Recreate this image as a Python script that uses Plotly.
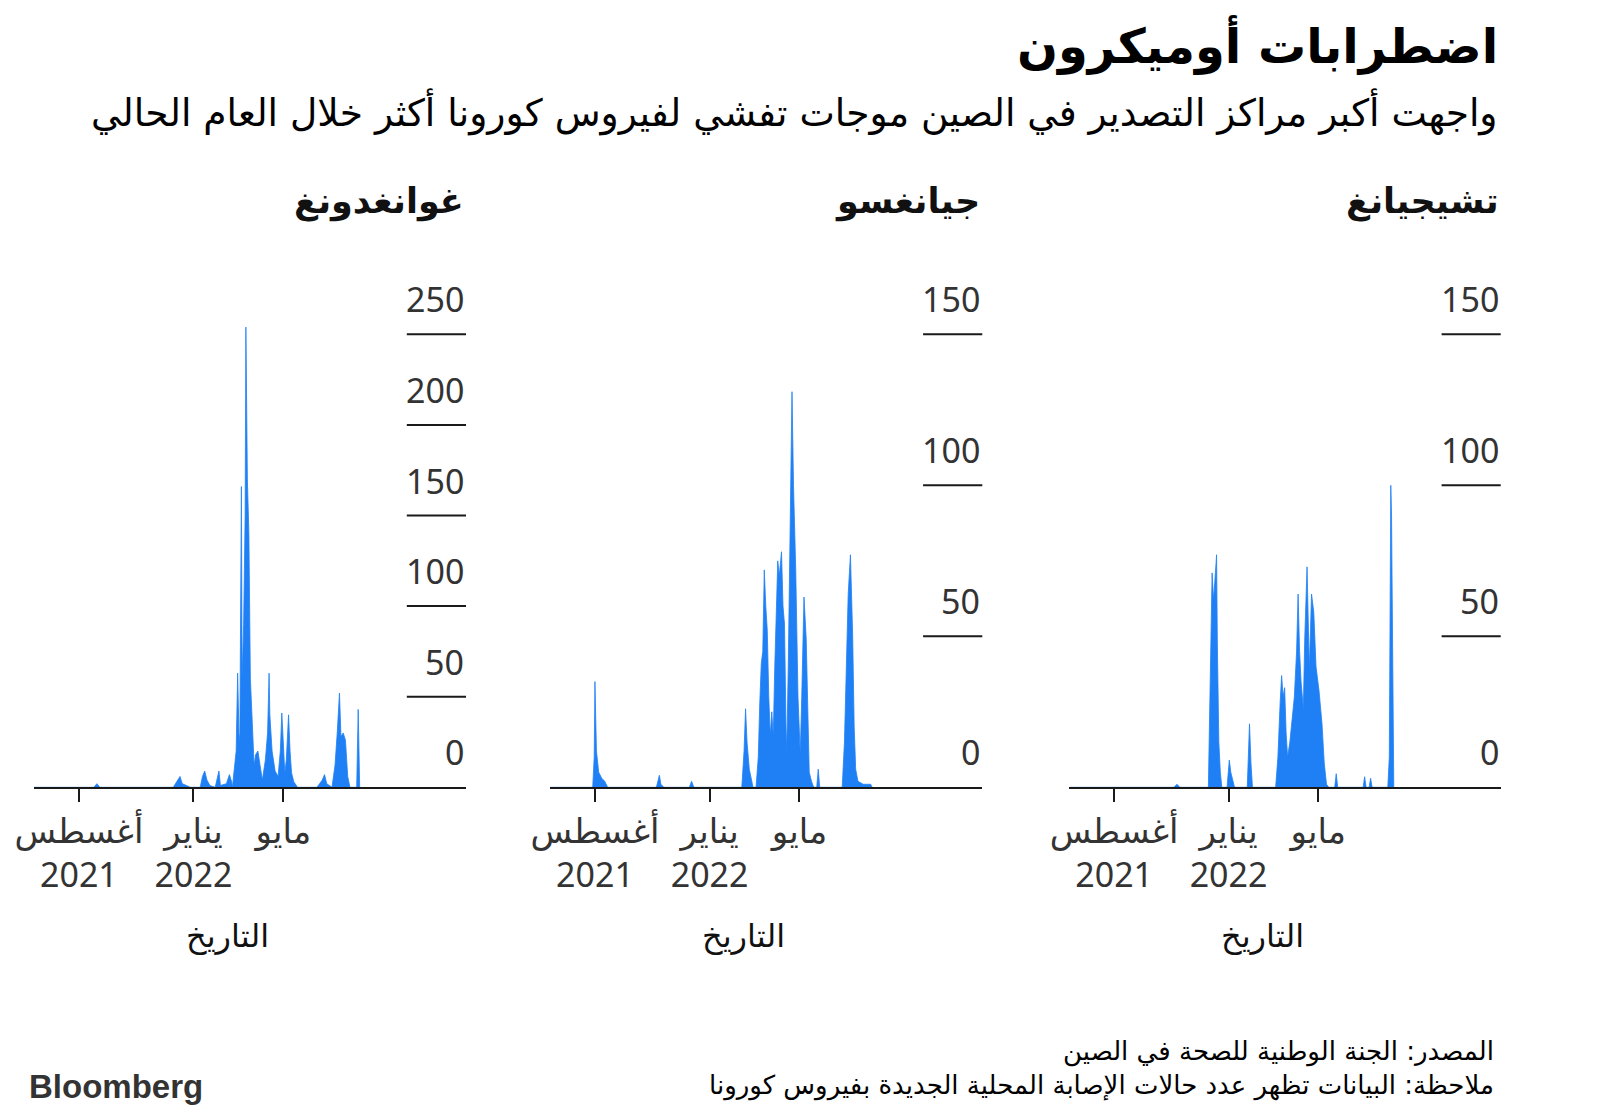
import plotly.graph_objects as go

# --- data (daily new local COVID cases) ---
gd_dates = ["2021-06-02", "2021-08-21", "2021-08-25", "2021-08-29",
            "2021-12-05", "2021-12-10", "2021-12-14", "2021-12-17", "2021-12-22", "2021-12-28",
            "2022-01-10", "2022-01-13", "2022-01-16", "2022-01-19", "2022-01-23",
            "2022-01-30", "2022-02-04", "2022-02-06", "2022-02-14", "2022-02-18", "2022-02-21",
            "2022-02-22", "2022-02-24", "2022-02-27", "2022-03-01", "2022-03-03", "2022-03-04",
            "2022-03-06", "2022-03-07", "2022-03-09", "2022-03-11", "2022-03-12", "2022-03-14",
            "2022-03-16", "2022-03-18", "2022-03-21", "2022-03-23", "2022-03-25", "2022-03-28",
            "2022-03-31", "2022-04-03", "2022-04-07", "2022-04-10", "2022-04-12", "2022-04-13",
            "2022-04-16", "2022-04-20", "2022-04-24", "2022-04-27", "2022-04-29", "2022-05-01",
            "2022-05-03", "2022-05-05", "2022-05-08", "2022-05-10", "2022-05-12", "2022-05-15",
            "2022-05-20", "2022-06-15", "2022-06-22", "2022-06-25", "2022-06-28", "2022-07-05",
            "2022-07-09", "2022-07-12", "2022-07-15", "2022-07-17", "2022-07-20", "2022-07-23",
            "2022-07-26", "2022-07-29", "2022-08-07", "2022-08-09", "2022-08-11"]
gd_cases = [0, 0, 2, 0,
            0, 3, 6, 2, 1, 0,
            0, 6, 9, 4, 1,
            0, 9, 1, 2, 7, 3,
            0, 8, 20, 63, 25, 30,
            166, 60, 90, 150, 254, 170,
            140, 60, 29, 12, 18, 20,
            12, 4, 15, 30, 63, 40,
            20, 9, 6, 20, 41, 20,
            8, 15, 40, 20, 8, 3,
            0, 0, 4, 7, 2, 0,
            12, 30, 52, 28, 30, 26,
            6, 0, 0, 43, 0]

js_dates = ["2021-06-02", "2021-07-29", "2021-07-31", "2021-08-01", "2021-08-03", "2021-08-06",
            "2021-08-10", "2021-08-14", "2021-08-18", "2021-10-22", "2021-10-26", "2021-10-28",
            "2021-11-01", "2021-12-05", "2021-12-08", "2021-12-11",
            "2022-02-13", "2022-02-16", "2022-02-18", "2022-02-20", "2022-02-23", "2022-02-26",
            "2022-02-28", "2022-03-04", "2022-03-07", "2022-03-09", "2022-03-11", "2022-03-13",
            "2022-03-15", "2022-03-17", "2022-03-19", "2022-03-21", "2022-03-23", "2022-03-25",
            "2022-03-27", "2022-03-29", "2022-03-31", "2022-04-02", "2022-04-04", "2022-04-07",
            "2022-04-09", "2022-04-11", "2022-04-13", "2022-04-14", "2022-04-16", "2022-04-18",
            "2022-04-21", "2022-04-23", "2022-04-26", "2022-04-29", "2022-05-02", "2022-05-04",
            "2022-05-07", "2022-05-10", "2022-05-12", "2022-05-14", "2022-05-17", "2022-05-20",
            "2022-05-24", "2022-05-26", "2022-05-28", "2022-06-27", "2022-06-30", "2022-07-03",
            "2022-07-05", "2022-07-08", "2022-07-11", "2022-07-13", "2022-07-15", "2022-07-18",
            "2022-07-25", "2022-08-04", "2022-08-06"]
js_cases = [0, 0, 10, 35, 12, 5,
            3, 2, 0, 0, 4, 1,
            0, 0, 2, 0,
            0, 12, 26, 15, 6, 2,
            0, 0, 10, 28, 41, 45,
            72, 60, 52, 30, 17, 25,
            17, 40, 55, 75, 70, 78,
            60, 54, 20, 12, 40, 80,
            131, 100, 72, 30, 11, 30,
            63, 49, 20, 5, 2, 0,
            0, 6, 0, 0, 15, 50,
            64, 77, 50, 20, 6, 2,
            1, 1, 0]

zj_dates = ["2021-06-02", "2021-10-20", "2021-10-24", "2021-10-28",
            "2021-12-05", "2021-12-07", "2021-12-09", "2021-12-10", "2021-12-12", "2021-12-14",
            "2021-12-16", "2021-12-17", "2021-12-19", "2021-12-21", "2021-12-23",
            "2021-12-30", "2022-01-02", "2022-01-04", "2022-01-06", "2022-01-09",
            "2022-01-26", "2022-01-28", "2022-01-29", "2022-01-31", "2022-02-02",
            "2022-03-05", "2022-03-08", "2022-03-11", "2022-03-13", "2022-03-15", "2022-03-17",
            "2022-03-19", "2022-03-21", "2022-03-24", "2022-03-27", "2022-03-30", "2022-04-02",
            "2022-04-04", "2022-04-06", "2022-04-08", "2022-04-11", "2022-04-13", "2022-04-16",
            "2022-04-19", "2022-04-22", "2022-04-25", "2022-04-28", "2022-05-02", "2022-05-06",
            "2022-05-09", "2022-05-12", "2022-05-15", "2022-05-23", "2022-05-25", "2022-05-27",
            "2022-06-30", "2022-07-02", "2022-07-04", "2022-07-08", "2022-07-10", "2022-07-12",
            "2022-08-02", "2022-08-04", "2022-08-05", "2022-08-06", "2022-08-07", "2022-08-08",
            "2022-08-09", "2022-08-10"]
zj_cases = [0, 0, 1, 0,
            0, 30, 60, 71, 62, 70,
            77, 48, 15, 5, 0,
            0, 9, 5, 3, 0,
            0, 15, 21, 8, 0,
            0, 10, 28, 37, 30, 33,
            18, 10, 15, 22, 30, 45,
            64, 45, 35, 26, 50, 73,
            39, 64, 58, 40, 32, 21,
            8, 1, 0, 0, 4.5, 0,
            0, 3.5, 0, 0, 3, 0,
            0, 10, 60, 100, 90, 60,
            15, 0]

provinces = ["غوانغدونغ", "جيانغسو", "تشيجيانغ"]
y_ticks = [[0, 50, 100, 150, 200, 250], [0, 50, 100, 150], [0, 50, 100, 150]]
y_tops = [280, 168, 168]

x_range = ["2021-06-02", "2022-12-31"]
x_tickvals = ["2021-08-01", "2022-01-01", "2022-05-01"]
x_ticktext = ["أغسطس<br>2021", "يناير<br>2022", "مايو"]

BLUE = "#1f80f6"
INK = "#1a1a1a"
TXT = "#333333"
FONT = "Noto Sans, DejaVu Sans, sans-serif"
ARABIC = "DejaVu Sans"

W, H, OFF = 1600, 1119, 8  # the page body adds an 8px margin


def px(x):
    return (x - OFF) / W


def py(y):
    return 1 - (y - OFF) / H


series = [(gd_dates, gd_cases), (js_dates, js_cases), (zj_dates, zj_cases)]
x_domains = [[px(34), px(466)], [px(550), px(982.3)], [px(1069.3), px(1500.7)]]
y_domain = [py(787.3), py(280)]

fig = go.Figure()
layout = {}
shapes = []
annotations = []

for i, (dates, cases) in enumerate(series):
    n = "" if i == 0 else str(i + 1)
    fig.add_trace(go.Scatter(
        x=dates, y=cases, xaxis="x" + n, yaxis="y" + n,
        mode="lines", fill="tozeroy",
        line=dict(color=BLUE, width=0.8), fillcolor=BLUE,
        showlegend=False, hoverinfo="skip",
    ))
    layout["xaxis" + n] = dict(
        domain=x_domains[i], anchor="y" + n, type="date", range=x_range,
        tickmode="array", tickvals=x_tickvals, ticktext=x_ticktext,
        ticks="outside", ticklen=13, tickwidth=2, tickcolor=INK,
        showline=True, linecolor=INK, linewidth=2,
        showgrid=False, zeroline=False, automargin=False,
        tickfont=dict(family=FONT, size=34, color=TXT),
        ticklabelstandoff=0,
    )
    layout["yaxis" + n] = dict(
        domain=y_domain, anchor="x" + n, range=[0, y_tops[i]], visible=False,
    )

    # short tick rules on the right with labels above them
    for v in y_ticks[i]:
        if v > 0:
            shapes.append(dict(
                type="line", xref=f"x{n} domain", yref="y" + n,
                x0=0.863, x1=1, y0=v, y1=v,
                line=dict(color=INK, width=2),
            ))
        annotations.append(dict(
            text=str(v), xref=f"x{n} domain", yref="y" + n,
            x=1, y=v, xanchor="right", yanchor="bottom", yshift=10,
            showarrow=False, font=dict(family=FONT, size=34, color=TXT),
        ))

    # panel title
    annotations.append(dict(
        text=f"<b>{provinces[i]}</b>", xref=f"x{n} domain", yref="paper",
        x=1, y=py(202), xanchor="right", yanchor="middle", showarrow=False,
        font=dict(family=ARABIC, size=35, color="#111111"),
    ))
    # axis title
    annotations.append(dict(
        text="التاريخ", xref=f"x{n} domain", yref="paper",
        x=0.447, y=py(934), xanchor="center", yanchor="middle", showarrow=False,
        font=dict(family=FONT, size=32, color="#111111"),
    ))

annotations += [
    dict(text="<b>اضطرابات أوميكرون</b>", xref="paper", yref="paper",
         x=px(1500), y=py(45), xanchor="right", yanchor="middle", showarrow=False,
         font=dict(family=ARABIC, size=48, color="#000000")),
    dict(text="واجهت أكبر مراكز التصدير في الصين موجات تفشي لفيروس كورونا أكثر خلال العام الحالي",
         xref="paper", yref="paper", x=px(1500), y=py(112), xanchor="right", yanchor="middle",
         showarrow=False, font=dict(family=ARABIC, size=37.6, color="#000000")),
    dict(text="المصدر: الجنة الوطنية للصحة في الصين", xref="paper", yref="paper",
         x=px(1496), y=py(1051), xanchor="right", yanchor="middle", showarrow=False,
         font=dict(family=ARABIC, size=26, color="#000000")),
    dict(text="ملاحظة: البيانات تظهر عدد حالات الإصابة المحلية الجديدة بفيروس كورونا",
         xref="paper", yref="paper", x=px(1496), y=py(1085), xanchor="right", yanchor="middle",
         showarrow=False, font=dict(family=ARABIC, size=26, color="#000000")),
    dict(text="<b>Bloomberg</b>", xref="paper", yref="paper",
         x=px(27), y=py(1086), xanchor="left", yanchor="middle", showarrow=False,
         font=dict(family="Liberation Sans", size=33, color="#333333")),
]

fig.update_layout(
    **layout,
    shapes=shapes,
    annotations=annotations,
    width=W, height=H,
    margin=dict(l=0, r=0, t=0, b=0),
    plot_bgcolor="white", paper_bgcolor="white",
)

fig.write_html("out.html")
